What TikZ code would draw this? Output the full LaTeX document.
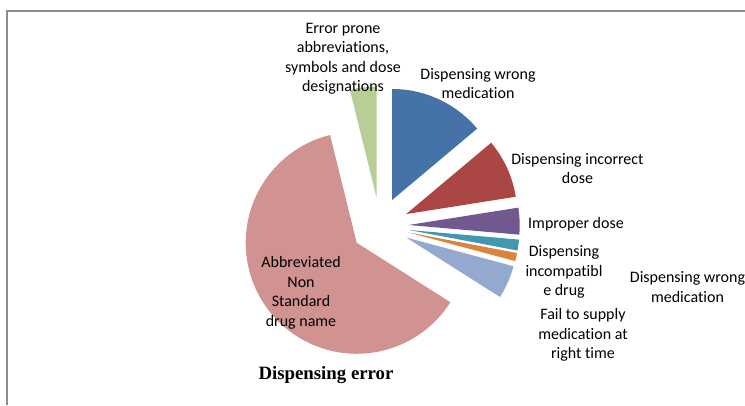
\documentclass[tikz,border=0pt]{standalone}
\usepackage{fontspec}
\newfontfamily\labfont[Ligatures={NoCommon,NoRare,NoContextual}]{Carlito}
\newfontfamily\titlefont{Liberation Serif}
\definecolor{cBlue}{HTML}{4572A7}
\definecolor{cRed}{HTML}{AA4643}
\definecolor{cPurple}{HTML}{71588F}
\definecolor{cTeal}{HTML}{4198AF}
\definecolor{cOrange}{HTML}{DB843D}
\definecolor{cLightBlue}{HTML}{93A9CF}
\definecolor{cPink}{HTML}{D19392}
\definecolor{cGreen}{HTML}{B9CD96}
\definecolor{frameGray}{HTML}{8C8C8C}
\tikzset{
  lab/.style={align=center, inner sep=0pt, text=black,
    font=\labfont\fontsize{16}{19.5}\selectfont},
  charttitle/.style={inner sep=0pt, text=black,
    font=\titlefont\bfseries\fontsize{18.8}{22}\selectfont},
}
% exploded pie slice: start angle, end angle, colour
\newcommand{\pieslice}[3]{%
  \pgfmathsetmacro{\midang}{(#1+#2)/2}%
  \fill[#3] ($(ctr)+(\midang:28.7)$) -- ++(#1:111) arc[start angle=#1, end angle=#2, radius=111] -- cycle;%
}
\usetikzlibrary{calc}
\begin{document}
\begin{tikzpicture}[x=1pt,y=1pt]
\useasboundingbox (0,0) rectangle (745,405);
% chart area border (top and left edges)
\draw[frameGray, line width=1.3pt] (7,0) -- (7,394) -- (745,394);
\coordinate (ctr) at (380,179);
% slices, clockwise from twelve o'clock
\pieslice{40}{90}{cBlue}
\pieslice{9}{40}{cRed}
\pieslice{-5}{9}{cPurple}
\pieslice{-10.7}{-5}{cTeal}
\pieslice{-15}{-10.7}{cOrange}
\pieslice{-32.4}{-15}{cLightBlue}
\pieslice{103.9}{327.6}{cPink}
\pieslice{90}{103.9}{cGreen}
% data labels
\node[lab] (lErr) at (343,346.5) {Error prone\\abbreviations,\\symbols and dose\\designations};
\node[lab] (lWrong) at (478,321.6) {Dispensing wrong\\medication};
\node[lab] (lIncorrect) at (577.5,236.6) {Dispensing incorrect\\dose};
\node[lab] (lImproper) at (576,181) {Improper dose};
\node[lab] (lIncompat) at (564,132.8) {Dispensing\\incompatibl\\e drug};
\node[lab] (lWrongB) at (687.5,117.8) {Dispensing wrong\\medication};
\node[lab] (lFail) at (583,70) {Fail to supply\\medication at\\right time};
\node[lab] (lAbbrev) at (301,112) {Abbreviated\\Non\\Standard\\drug name};
\node[charttitle] (title) at (326,30) {Dispensing error};
\end{tikzpicture}
\end{document}
